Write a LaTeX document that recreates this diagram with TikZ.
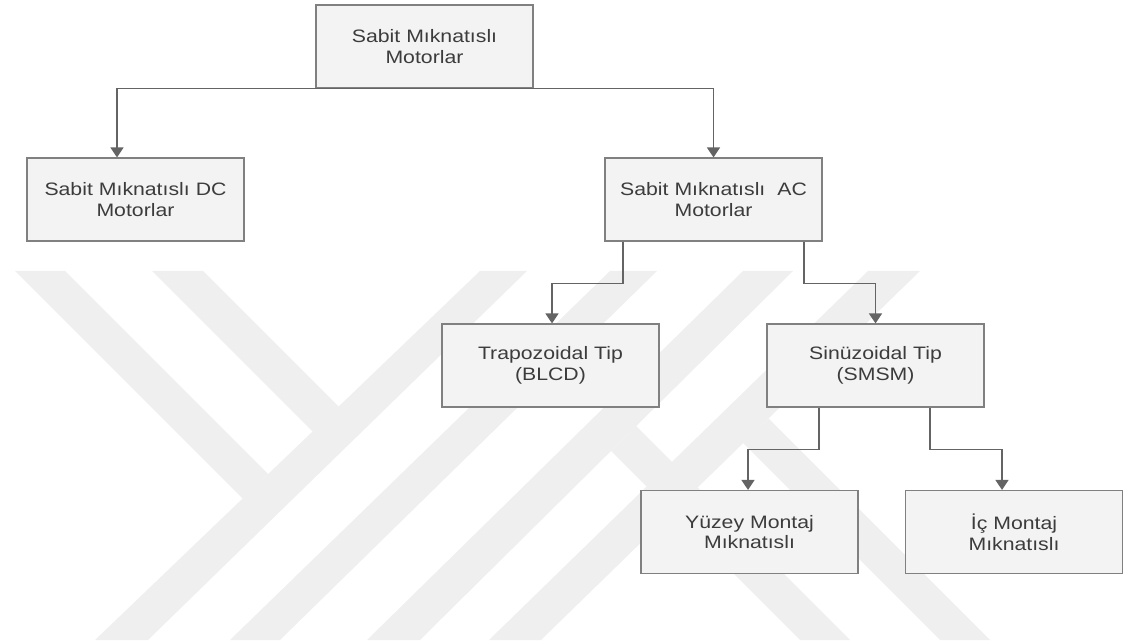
\documentclass[tikz,border=0pt]{standalone}
\usepackage{fontspec}
\setmainfont[FakeStretch=1.18]{Liberation Sans}
\usetikzlibrary{arrows.meta}
\definecolor{boxfill}{RGB}{243,243,243}
\definecolor{boxline}{RGB}{128,128,128}
\definecolor{connline}{RGB}{100,100,100}
\definecolor{txt}{RGB}{60,60,60}
\definecolor{wmark}{RGB}{239,239,239}

\begin{document}
\begin{tikzpicture}[x=1pt,y=-1pt,
  mbox/.style={draw=boxline, line width=1.2pt, fill=boxfill,
    minimum width=217pt, minimum height=83pt, inner sep=0pt,
    text width=212pt, align=center, text=txt,
    font=\fontsize{18}{20.7}\selectfont},
  conn/.style={draw=connline, line width=1.5pt,
    -{Triangle[width=13pt,length=10pt]}}]
\useasboundingbox (0,0) rectangle (1124,644);

% background emblem: light diagonal bands
\begin{scope}[wmark]
  \fill (15,271) -- (65,271) -- (268,474) -- (243,499) -- cycle;
  \fill (152,271) -- (203,271) -- (339,407) -- (313,432) -- cycle;
  \fill (480,271) -- (527,271) -- (148,640) -- (95,640) -- cycle;
  \fill (610,271) -- (657,271) -- (280,640) -- (230,640) -- cycle;
  \fill (743,271) -- (793,271) -- (420,640) -- (367,640) -- cycle;
  \fill (868,271) -- (920,271) -- (541,640) -- (489,640) -- cycle;
  \fill (636,426) -- (850,640) -- (800,640) -- (611,451) -- cycle;
  \fill (768.5,418.5) -- (990,640) -- (940,640) -- (743,443) -- cycle;
\end{scope}

% boxes
\node[mbox] (root) at (424.5,46.5)  {Sabit Mıknatıslı\\Motorlar};
\node[mbox] (dc)   at (135.5,199.5) {Sabit Mıknatıslı DC\\Motorlar};
\node[mbox] (ac)   at (713.5,199.5) {Sabit Mıknatıslı~~AC\\Motorlar};
\node[mbox] (trap) at (550.5,365.5) {Trapozoidal Tip\\(BLCD)};
\node[mbox] (sin)  at (875.5,365.5) {Sinüzoidal Tip\\(SMSM)};
\node[mbox] (ym)   at (749.5,532)   {Yüzey Montaj\\Mıknatıslı};
\node[mbox] (ic)   at (1014,532)    {İç Montaj\\Mıknatıslı};

% connectors
\draw[conn] (root.south) -| ([xshift=-18.5pt]dc.north);
\draw[conn] (root.south) -| (ac.north);
\draw[conn] ([xshift=-90.5pt]ac.south) -- ++(0,42) -| ([xshift=1.5pt]trap.north);
\draw[conn] ([xshift=90.5pt]ac.south) -- ++(0,42) -| (sin.north);
\draw[conn] ([xshift=-56.5pt]sin.south) -- ++(0,42) -| ([xshift=-1.5pt]ym.north);
\draw[conn] ([xshift=54.5pt]sin.south) -- ++(0,42) -| ([xshift=-12pt]ic.north);
\end{tikzpicture}
\end{document}
